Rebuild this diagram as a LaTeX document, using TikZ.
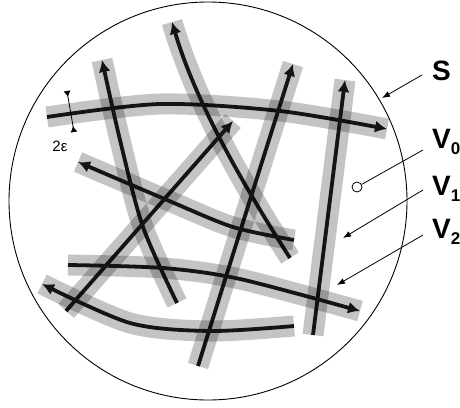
\documentclass[tikz,border=0pt]{standalone}
\usepackage{fontspec}
\setmainfont{Liberation Sans}
\usetikzlibrary{arrows.meta}

\begin{document}
\begin{tikzpicture}[x=1pt, y=-1pt,
    strand/.style={line width=3.8pt, black!92,
        preaction={draw, arrows=-, line width=21pt, black, opacity=0.23},
        -{Latex[length=12pt, width=12pt]}},
    callout/.style={line width=0.8pt, -{Latex[length=8pt, width=6pt]}},
    lab/.style={inner sep=0pt, font=\fontsize{28}{28}\selectfont\bfseries}]
    \useasboundingbox (0,0) rectangle (460,407);

    % the set S
    \draw[line width=0.9pt] (208,201) circle[radius=199];

    % tubes of width 2 epsilon round the flow lines
    \draw[strand] plot[smooth] coordinates {(47,117) (160,104) (280,111) (387,129)};
    \draw[strand] plot[smooth] coordinates {(177,303) (143,227) (120,140) (102,60)};
    \draw[strand] (290,258) .. controls (240,180) and (195,100) .. (172,22);
    \draw[strand] plot[smooth] coordinates {(198,366) (250,200) (293,64)};
    \draw[strand] (313,335) -- (345,80);
    \draw[strand] (66,311) -- (233,121);
    \draw[strand] plot[smooth] coordinates {(294,240) (233,227) (167,200) (78,162)};
    \draw[strand] plot[smooth] coordinates {(68,265) (163,268) (240,279) (360,311)};
    \draw[strand] plot[smooth] coordinates {(294,326) (210,331) (130,323) (42,284)};

    % width marker
    \coordinate (eps-top) at (67,91);
    \coordinate (eps-bot) at (74,132);
    \draw[line width=0.8pt, {Latex[reversed, length=6pt, width=7pt]}-{Latex[reversed, length=6pt, width=7pt]}]
        (eps-top) -- (eps-bot);
    \node[font=\fontsize{15}{15}\selectfont] (eps) at (60,146) {2ε};

    % labels
    \node[lab, anchor=base west] (S) at (432,80) {S};
    \node[lab, anchor=base west] (V0) at (432,148) {V\raisebox{-6pt}{\fontsize{17}{17}\selectfont 0}};
    \node[lab, anchor=base west] (V1) at (432,195) {V\raisebox{-6pt}{\fontsize{17}{17}\selectfont 1}};
    \node[lab, anchor=base west] (V2) at (432,238) {V\raisebox{-6pt}{\fontsize{17}{17}\selectfont 2}};

    \coordinate (s-from) at (422,75);
    \coordinate (s-tip) at (382,98);
    \coordinate (v0-from) at (423,150);
    \coordinate (v1-from) at (423,190);
    \coordinate (v1-tip) at (343,238);
    \coordinate (v2-from) at (423,235);
    \coordinate (v2-tip) at (337,285);
    \node[draw, circle, inner sep=0pt, minimum size=10pt, line width=0.8pt] (v0-pt) at (357,187) {};

    \draw[callout] (s-from) -- (s-tip);
    \draw[line width=0.8pt] (v0-from) -- (v0-pt);
    \draw[callout] (v1-from) -- (v1-tip);
    \draw[callout] (v2-from) -- (v2-tip);
\end{tikzpicture}
\end{document}
